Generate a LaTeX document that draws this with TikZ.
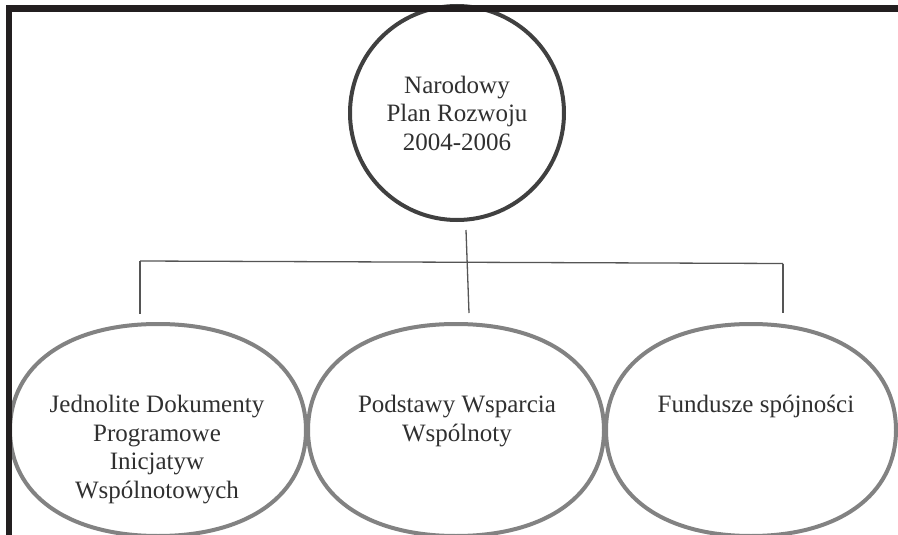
\documentclass[tikz,border=0pt]{standalone}
\usepackage{fontspec}
\setmainfont{Liberation Serif}
\usetikzlibrary{calc,shapes.geometric}
\definecolor{borderc}{HTML}{231F20}
\definecolor{circc}{HTML}{404040}
\definecolor{ellc}{HTML}{828282}
\definecolor{linec}{HTML}{555555}
\definecolor{txtc}{HTML}{303030}
\tikzset{
  lbl/.style={font=\fontsize{25}{28.5}\selectfont, text=txtc, align=center, inner sep=0pt},
  topcircle/.style={circle, draw=circc, line width=4pt, minimum size=214pt, inner sep=0pt, outer sep=0pt, lbl},
  ellbox/.style={ellipse, minimum width=296pt, minimum height=212pt, inner sep=0pt, outer sep=0pt},
  ellline/.style={draw=ellc, line width=4pt},
  conn/.style={draw=linec, line width=1.3pt},
  borderband/.style={fill=borderc},
}
\newcommand\drawsqell[3]{%
  \draw[ellline] ($(#1.center)+(#2,0)$)
    .. controls +(0,{0.61*#3}) and +({0.61*#2},0) .. ($(#1.center)+(0,#3)$)
    .. controls +({-0.61*#2},0) and +(0,{0.61*#3}) .. ($(#1.center)+(-#2,0)$)
    .. controls +(0,{-0.61*#3}) and +({-0.61*#2},0) .. ($(#1.center)+(0,-#3)$)
    .. controls +({0.61*#2},0) and +(0,{-0.61*#3}) .. ($(#1.center)+(#2,0)$) -- cycle;}
\begin{document}
\begin{tikzpicture}[x=1pt,y=-1pt]
  \path[use as bounding box, fill=white] (0,0) rectangle (898,535);
  \begin{scope}
    \clip (0,0) rectangle (898,535);
    % lower ellipses
    \node[ellbox] (e1) at (158,430) {};
    \node[ellbox] (e2) at (456,430) {};
    \node[ellbox, minimum width=290pt] (e3) at (751,430) {};
    \drawsqell{e1}{148}{106}
    \drawsqell{e2}{148}{106}
    \drawsqell{e3}{145}{106}
    \node[lbl, anchor=north] (t1) at ($(e1.center)+(-1,-35)$) {Jednolite Dokumenty\\Programowe\\Inicjatyw\\Wspólnotowych};
    \node[lbl, anchor=north] (t2) at ($(e2.center)+(1,-35)$) {Podstawy Wsparcia\\Wspólnoty};
    \node[lbl, anchor=north] (t3) at ($(e3.center)+(5,-35)$) {Fundusze spójności};
    % top circle
    \node[topcircle] (npr) at (457,113) {Narodowy\\Plan Rozwoju\\2004-2006};
    % connectors
    \coordinate (hl) at (140,261);
    \coordinate (hr) at (783,263.5);
    \draw[conn] (hl) -- (hr);
    \draw[conn] ($(npr.south)+(9,10)$) -- ($(e2.north)+(13,-11)$);
    \draw[conn] (hl) -- ($(e1.north)+(-18,-10)$);
    \draw[conn] (hr) -- ($(e3.north)+(32,-11)$);
    % frame
    \fill[borderband] (6,5) rectangle (898,12);
    \fill[borderband] (6,5) rectangle (12,535);
  \end{scope}
\end{tikzpicture}
\end{document}
